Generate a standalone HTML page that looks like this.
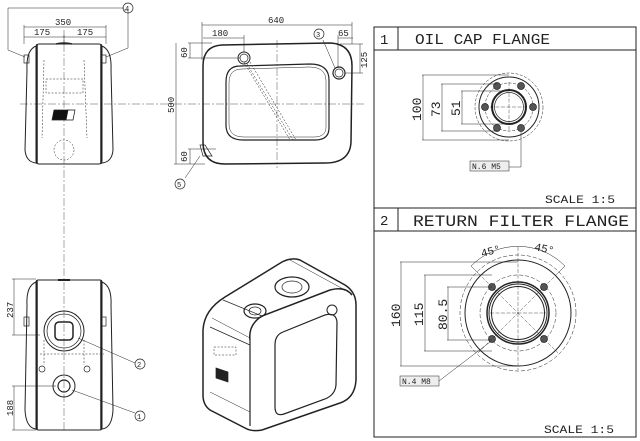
<!DOCTYPE html>
<html><head><meta charset="utf-8"><style>
html,body{margin:0;padding:0;background:#fff;}
svg{display:block;}
text{font-family:"Liberation Mono",monospace;fill:#222;}
</style></head><body>
<svg width="640" height="441" viewBox="0 0 640 441" xmlns="http://www.w3.org/2000/svg" fill="none" stroke="#222" stroke-width="0.7">
<g stroke="#555" stroke-width="0.5" stroke-dasharray="8,2,2,2">
<line x1="20" y1="104" x2="365" y2="104"/>
<line x1="64" y1="30" x2="64" y2="430"/>
<line x1="277" y1="40" x2="277" y2="168"/>
</g>
<rect x="36" y="44" width="66" height="120" rx="3" stroke-width="1"/>
<line x1="37" y1="44" x2="37" y2="164" stroke-width="1.5"/>
<line x1="101" y1="44" x2="101" y2="164" stroke-width="1.5"/>
<path d="M36 46 Q26 50 27 70 L25 150 Q26 162 36 163" stroke-width="1"/>
<path d="M102 46 Q112 50 111 70 L113 150 Q112 162 102 163" stroke-width="1"/>
<rect x="24" y="55" width="5" height="8"/><rect x="101" y="55" width="5" height="8"/>
<path d="M56 44 Q64 42 72 44" stroke-width="1.5"/>
<g stroke-dasharray="2,1.5" stroke-width="0.5">
<rect x="46" y="79" width="37" height="14"/>
<path d="M44 60 L42 138 M84 60 L87 138"/>
<circle cx="64" cy="150" r="10"/>
</g>
<path d="M54 110 L68 110 L66 120 L52 120 Z" fill="#111"/>
<path d="M68 110 L75 110 L73 120 L66 120 Z" fill="#fff" stroke="#111"/>
<line x1="24" y1="27" x2="106" y2="27" stroke-width="0.5"/>
<line x1="24" y1="37" x2="106" y2="37" stroke-width="0.5"/>
<line x1="24" y1="25" x2="24" y2="44" stroke-width="0.5"/><line x1="106" y1="25" x2="106" y2="44" stroke-width="0.5"/>
<line x1="64" y1="35" x2="64" y2="44" stroke-width="0.5"/>
<text x="55" y="25" font-size="9" stroke="none">350</text>
<text x="34" y="35" font-size="9" stroke="none">175</text>
<text x="77" y="35" font-size="9" stroke="none">175</text>
<path d="M124 8 L8 8 L8 50 L25 57 M124 10 L128 10 L128 48 L106 57" stroke-width="0.5"/>
<circle cx="128" cy="8" r="5"/><text x="125" y="11" font-size="7" stroke="none">4</text>
<path d="M222 45 L330 43 Q352 44 352 66 L351 142 Q350 163 325 163 L225 164 Q203 164 203 142 L203 66 Q203 46 222 45 Z" stroke-width="1.5"/>
<path d="M240 66 L310 64 Q329 64 329 80 L329 128 Q329 140 315 140 L243 140 Q226 140 226 125 L226 82 Q226 66 240 66 Z" stroke-width="1.2"/>
<path d="M242 69 L309 67 Q326 67 326 81 L326 127 Q326 137 314 137 L244 137 Q229 137 229 124 L229 83 Q229 69 242 69 Z" stroke-width="0.5"/>
<g stroke-dasharray="2,1.5" stroke-width="0.5"><path d="M244 62 L290 140 M250 62 L296 140 M247 64 L293 140"/></g>
<circle cx="244" cy="58" r="6" stroke-width="1"/><circle cx="244" cy="58" r="4"/>
<circle cx="339" cy="73" r="6" stroke-width="1.2"/><circle cx="339" cy="73" r="4"/>
<path d="M200 145 L205 145 L212 156 L203 156 Z"/>
<g stroke-width="0.5">
<line x1="202" y1="25" x2="352" y2="25"/><line x1="202" y1="22" x2="202" y2="60"/><line x1="352" y1="22" x2="352" y2="44"/>
<line x1="203" y1="38" x2="244" y2="38"/><line x1="244" y1="35" x2="244" y2="52"/>
<line x1="188" y1="43" x2="212" y2="43"/><line x1="188" y1="58" x2="240" y2="58"/><line x1="190" y1="43" x2="190" y2="58"/>
<line x1="176" y1="43" x2="176" y2="164"/><line x1="174" y1="164" x2="205" y2="164"/>
<line x1="188" y1="149" x2="216" y2="149"/><line x1="190" y1="149" x2="190" y2="164"/>
<line x1="338" y1="38" x2="353" y2="38"/><line x1="338" y1="35" x2="338" y2="68"/>
<line x1="340" y1="44" x2="363" y2="44"/><line x1="345" y1="73" x2="363" y2="73"/><line x1="360" y1="44" x2="360" y2="73"/>
<path d="M323 40 L335 68"/><path d="M200 156 L185 178"/>
</g>
<text x="268" y="23" font-size="9" stroke="none">640</text>
<text x="212" y="36" font-size="9" stroke="none">180</text>
<text x="338" y="36" font-size="9" stroke="none">65</text>
<circle cx="319" cy="34" r="5"/><text x="316" y="37" font-size="7" stroke="none">3</text>
<circle cx="180" cy="184" r="5"/><text x="177" y="187" font-size="7" stroke="none">5</text>
<text font-size="9" stroke="none" transform="translate(187,58) rotate(-90)">60</text>
<text font-size="9" stroke="none" transform="translate(187,162) rotate(-90)">60</text>
<text font-size="9" stroke="none" transform="translate(174,113) rotate(-90)">500</text>
<text font-size="9" stroke="none" transform="translate(367,68) rotate(-90)">125</text>
<rect x="36" y="280" width="66" height="150" rx="2" stroke-width="1"/>
<line x1="37" y1="280" x2="37" y2="430" stroke-width="1.5"/><line x1="101" y1="280" x2="101" y2="430" stroke-width="1.5"/>
<path d="M36 282 Q26 286 27 305 L25 410 Q26 428 36 429" stroke-width="1"/>
<path d="M102 282 Q112 286 111 305 L113 410 Q112 428 102 429" stroke-width="1"/>
<rect x="24" y="317" width="5" height="9"/><rect x="101" y="317" width="5" height="9"/>
<path d="M58 280 L70 280" stroke-width="2"/>
<circle cx="64" cy="331" r="20" stroke-width="1"/><circle cx="64" cy="331" r="17"/>
<rect x="55" y="322" width="18" height="18" rx="4" stroke-width="1.5"/>
<circle cx="64" cy="386" r="11" stroke-width="1"/><circle cx="64" cy="386" r="6" stroke-width="1.2"/>
<g stroke-dasharray="2,1.5" stroke-width="0.5"><path d="M40 354 L104 354 M44 340 L44 365 M84 340 L84 365"/></g>
<circle cx="42" cy="369" r="3"/><circle cx="87" cy="369" r="3"/>
<g stroke-width="0.5">
<line x1="12" y1="279" x2="36" y2="279"/><line x1="12" y1="335" x2="40" y2="335"/><line x1="14" y1="279" x2="14" y2="335"/>
<line x1="12" y1="386" x2="56" y2="386"/><line x1="12" y1="430" x2="36" y2="430"/><line x1="14" y1="386" x2="14" y2="430"/>
<path d="M78 338 L135 363"/><path d="M72 390 L135 413"/>
</g>
<text font-size="9" stroke="none" transform="translate(13,318) rotate(-90)">237</text>
<text font-size="9" stroke="none" transform="translate(13,416) rotate(-90)">188</text>
<circle cx="140" cy="364" r="5"/><text x="137" y="367" font-size="7" stroke="none">2</text>
<circle cx="140" cy="416" r="5"/><text x="137" y="419" font-size="7" stroke="none">1</text>
<path d="M203 330 Q204 310 225 297 L282 262 Q292 257 300 260 L345 285 Q356 292 356 305 L356 380 Q355 398 340 403 L262 430 Q252 432 245 428 L210 410 Q203 405 203 395 Z" stroke-width="1.5"/>
<path d="M250 340 L250 426" stroke-width="1.2"/>
<path d="M250 340 Q248 325 262 316 L330 290 Q345 286 352 295" stroke-width="1.5"/>
<path d="M212 318 L250 338" stroke-width="0.5"/>
<path d="M223 300 L262 316 M210 327 L250 345"/>
<path d="M210 392 L250 412 M290 260 L345 290" stroke-width="0.5"/>
<path d="M283 332 L325 315 Q336 312 337 322 L336 385 Q335 395 325 399 L284 414 Q275 417 275 407 L275 345 Q275 335 283 332 Z" stroke-width="1.2"/>
<ellipse cx="292" cy="287" rx="17" ry="10" stroke-width="1.2"/><ellipse cx="292" cy="287" rx="10" ry="6"/>
<ellipse cx="255" cy="311" rx="11" ry="7" stroke-width="1.2"/><ellipse cx="255" cy="311" rx="6" ry="4"/>
<circle cx="332" cy="310" r="5" stroke-width="1"/>
<rect x="214" y="347" width="22" height="8" stroke-dasharray="2,1.5" stroke-width="0.5"/>
<path d="M216 368 L228 372 L228 382 L216 378 Z" fill="#222"/>
<rect x="374" y="27" width="262" height="410" stroke-width="1"/>
<line x1="374" y1="50" x2="636" y2="50" stroke-width="1"/>
<line x1="374" y1="208" x2="636" y2="208" stroke-width="1"/>
<line x1="374" y1="231" x2="636" y2="231" stroke-width="1"/>
<line x1="398" y1="27" x2="398" y2="50" stroke-width="1"/>
<line x1="398" y1="208" x2="398" y2="231" stroke-width="1"/>
<text x="380" y="44" font-size="14" stroke="none">1</text>
<text x="415" y="44" font-size="15" stroke="none" textLength="135" lengthAdjust="spacingAndGlyphs">OIL CAP FLANGE</text>
<text x="380" y="225" font-size="14" stroke="none">2</text>
<text x="413" y="226" font-size="16" stroke="none" textLength="216" lengthAdjust="spacingAndGlyphs">RETURN FILTER FLANGE</text>
<text x="545" y="203" font-size="11" stroke="none" textLength="70" lengthAdjust="spacingAndGlyphs">SCALE 1:5</text>
<text x="544" y="433" font-size="11" stroke="none" textLength="70" lengthAdjust="spacingAndGlyphs">SCALE 1:5</text>
<circle cx="509" cy="107" r="34" stroke-dasharray="3,1.5" stroke-width="0.5"/>
<circle cx="509" cy="107" r="30" stroke-width="1"/>
<circle cx="509" cy="107" r="24" stroke-dasharray="3,1.5" stroke-width="0.5"/>
<circle cx="509" cy="107" r="17" stroke-width="2"/>
<circle cx="509" cy="107" r="14.5" stroke-width="0.7"/>
<g stroke-width="0.4" stroke-dasharray="4,1.5"><line x1="490" y1="107" x2="528" y2="107"/><line x1="509" y1="82" x2="509" y2="132"/></g>
<g fill="#555" stroke-width="0.7">
<circle cx="497" cy="86" r="3.5"/><circle cx="521" cy="86" r="3.5"/><circle cx="485" cy="107" r="3.5"/><circle cx="533" cy="107" r="3.5"/><circle cx="497" cy="128" r="3.5"/><circle cx="521" cy="128" r="3.5"/>
</g>
<g stroke-width="0.5">
<line x1="422" y1="75" x2="509" y2="75"/><line x1="422" y1="140" x2="509" y2="140"/><line x1="423" y1="75" x2="423" y2="140"/>
<line x1="441" y1="84" x2="497" y2="84"/><line x1="441" y1="131" x2="497" y2="131"/><line x1="442" y1="84" x2="442" y2="131"/>
<line x1="461" y1="91" x2="509" y2="91"/><line x1="461" y1="124" x2="509" y2="124"/><line x1="462" y1="91" x2="462" y2="124"/>
<path d="M521 132 L521 167 L509 167"/>
<rect x="470" y="161" width="39" height="10" fill="#eee"/>
</g>
<text x="472" y="169" font-size="8" stroke="none">N.6 M5</text>
<text font-size="13" stroke="none" transform="translate(421,121) rotate(-90)">100</text>
<text font-size="13" stroke="none" transform="translate(440,117) rotate(-90)">73</text>
<text font-size="13" stroke="none" transform="translate(460,116) rotate(-90)">51</text>
<circle cx="518" cy="313" r="58" stroke-dasharray="4,2" stroke-width="0.5"/>
<circle cx="518" cy="313" r="53" stroke-width="1"/>
<circle cx="518" cy="313" r="38" stroke-dasharray="4,2" stroke-width="0.5"/>
<circle cx="518" cy="313" r="31" stroke-width="1.5"/>
<circle cx="518" cy="313" r="29" stroke-width="1"/>
<circle cx="518" cy="313" r="26.5" stroke-width="1"/>
<g stroke-width="0.4" stroke-dasharray="4,1.5">
<line x1="518" y1="247" x2="518" y2="370"/><line x1="490" y1="313" x2="546" y2="313"/>
<line x1="478" y1="273" x2="558" y2="353"/><line x1="558" y1="273" x2="478" y2="353"/>
</g>
<path d="M471 266 A66 66 0 0 1 565 266" stroke-width="0.5"/>
<line x1="471" y1="266" x2="478" y2="273" stroke-width="0.5"/><line x1="565" y1="266" x2="558" y2="273" stroke-width="0.5"/>
<g fill="#555" stroke-width="0.7">
<circle cx="492" cy="287" r="3.5"/><circle cx="544" cy="287" r="3.5"/><circle cx="492" cy="339" r="3.5"/><circle cx="544" cy="339" r="3.5"/>
</g>
<g stroke-width="0.5">
<line x1="400" y1="262" x2="518" y2="262"/><line x1="400" y1="366" x2="518" y2="366"/><line x1="401" y1="262" x2="401" y2="366"/>
<line x1="424" y1="275" x2="492" y2="275"/><line x1="424" y1="351" x2="492" y2="351"/><line x1="425" y1="275" x2="425" y2="351"/>
<line x1="447" y1="287" x2="492" y2="287"/><line x1="447" y1="340" x2="492" y2="340"/><line x1="448" y1="287" x2="448" y2="340"/>
<path d="M490 342 L439 381"/>
<rect x="400" y="376" width="39" height="10" fill="#eee"/>
</g>
<text x="402" y="384" font-size="8" stroke="none">N.4 M8</text>
<text font-size="13" stroke="none" transform="translate(400,327) rotate(-90)">160</text>
<text font-size="13" stroke="none" transform="translate(423,326) rotate(-90)">115</text>
<text font-size="13" stroke="none" transform="translate(447,330) rotate(-90)">80.5</text>
<text font-size="11" stroke="none" transform="translate(482,257) rotate(-15)">45°</text>
<text font-size="11" stroke="none" transform="translate(534,250) rotate(12)">45°</text>
</svg>
</body></html>
